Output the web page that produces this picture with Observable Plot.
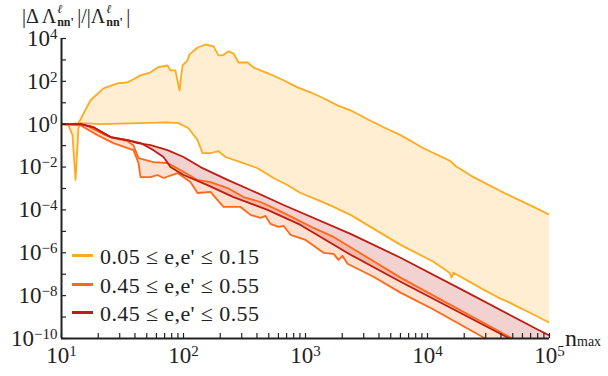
<!DOCTYPE html>
<html>
<head>
<meta charset="utf-8">
<script src="https://cdn.jsdelivr.net/npm/d3@7"></script>
<script src="https://cdn.jsdelivr.net/npm/@observablehq/plot@0.6"></script>
<style>
  html, body { margin: 0; padding: 0; background: #fff; }
  #wrap { position: relative; width: 608px; height: 376px; font-family: "Liberation Serif", "Times New Roman", "DejaVu Serif", serif; color: #222; }
  #chart { position: absolute; left: 0; top: 0; }
  .ov { position: absolute; white-space: nowrap; }
  .st { display: inline-block; position: relative; height: 1em; vertical-align: baseline; }
  .st span { position: absolute; left: 1px; font-size: 12px; line-height: 13px; }
  .st .u { top: 0px; font-style: italic; }
  .st .l { top: 13px; font-weight: bold; }
  .leg { position: absolute; left: 72px; font-size: 22px; white-space: nowrap; letter-spacing: 0.4px; }
  .leg i { display: inline-block; width: 21px; height: 0; border-top: 3px solid; vertical-align: 0.3em; margin-right: 7px; }
</style>
</head>
<body>
<div id="wrap">
  <div class="ov" style="left:22px; top:3px; font-size:20px;">|Δ Λ<span class="st" style="width:21px"><span class="u">ℓ</span><span class="l">nn'</span></span>|/|Λ<span class="st" style="width:21px"><span class="u">ℓ</span><span class="l">nn'</span></span>|</div>
  <div id="chart"></div>
  <div class="ov" style="left:565px; top:325px; font-size:24px;">n<span style="font-size:14px;">max</span></div>
  <div id="legend"></div>
</div>
<script>
// ---- data (log10 of n_max, log10 of value) ----
const yellowUpperLogN = [1.000,1.074,1.139,1.238,1.344,1.459,1.541,1.648,1.730,1.787,1.869,1.893,1.934,1.967,1.992,2.033,2.049,2.115,2.180,2.246,2.287,2.320,2.369,2.410,2.451,2.525,2.574,2.631,2.713,2.820,2.934,3.041,3.148,3.262,3.369,3.508,3.639,3.779,3.967,4.189,4.230,4.377,4.598,4.869,5.000];
const yellowUpperLogV = [0.00,0.00,0.05,1.12,1.67,1.91,1.95,2.28,2.42,2.65,2.74,2.51,2.51,1.58,2.74,2.98,3.26,3.58,3.72,3.63,3.21,3.21,3.40,3.30,2.88,2.88,2.65,2.51,2.33,2.05,1.72,1.49,1.21,0.88,0.65,0.23,-0.14,-0.51,-1.12,-1.72,-1.95,-2.47,-3.12,-3.86,-4.23];
const yellowLowerLogN = [1.000,1.057,1.090,1.115,1.139,1.156,1.320,1.869,1.959,2.041,2.115,2.156,2.221,2.287,2.344,2.467,2.607,2.738,2.852,2.959,3.098,3.230,3.369,3.779,4.049,4.180,4.197,4.213,4.459,4.598,4.656,4.869,5.000];
const yellowLowerLogV = [0.00,-0.05,-0.51,-2.60,-0.19,0.05,0.00,0.09,0.05,-0.19,-0.74,-1.35,-1.35,-1.26,-1.53,-1.77,-2.05,-2.51,-2.84,-3.21,-3.53,-3.86,-4.23,-5.63,-6.42,-6.93,-7.16,-6.93,-7.72,-8.14,-8.28,-8.88,-9.26];

const orangeUpperLogN = [1.000,1.197,1.344,1.426,1.541,1.590,1.631,1.754,1.869,1.975,2.115,2.221,2.361,2.492,2.631,2.770,2.902,3.066,3.230,3.779,4.680,5.000];
const orangeUpperLogV = [0.00,-0.05,-0.47,-0.65,-0.79,-0.98,-1.58,-1.77,-1.81,-2.14,-2.60,-2.70,-2.98,-3.40,-3.63,-4.00,-4.37,-4.84,-5.26,-7.16,-9.95,-10.93];
const orangeLowerLogN = [1.000,1.156,1.295,1.426,1.590,1.631,1.648,1.730,1.787,1.836,1.951,2.057,2.115,2.221,2.328,2.467,2.549,2.631,2.672,2.713,2.779,2.820,2.877,3.000,3.148,3.230,3.270,3.303,3.344,3.557,3.779,4.049,4.459,5.000];
const orangeLowerLogV = [0.00,-0.05,-0.51,-0.88,-1.21,-1.81,-2.47,-2.47,-2.37,-2.51,-2.28,-2.70,-3.21,-3.16,-3.86,-3.86,-4.23,-4.37,-4.28,-4.65,-4.79,-4.74,-5.16,-5.40,-6.00,-6.05,-6.33,-6.14,-6.51,-7.12,-7.86,-8.65,-9.95,-11.53];

const redUpperLogN = [1.000,1.156,1.262,1.402,1.541,1.623,1.730,1.869,2.000,2.139,2.361,2.549,2.820,3.369,3.779,4.328,4.902,5.000];
const redUpperLogV = [0.00,0.00,-0.14,-0.60,-0.74,-0.88,-0.98,-1.21,-1.53,-2.00,-2.60,-3.07,-3.77,-5.12,-6.23,-7.86,-9.58,-9.86];
const redLowerLogN = [1.000,1.156,1.262,1.402,1.541,1.648,1.754,1.836,1.893,2.000,2.197,2.410,2.689,2.959,3.369,3.779,4.656,5.000];
const redLowerLogV = [0.00,0.00,-0.14,-0.60,-0.74,-0.88,-1.21,-1.53,-2.00,-2.37,-2.84,-3.40,-4.00,-4.70,-6.09,-7.35,-9.95,-11.00];

const seriesLabels = ["0.05 ≤ e,e' ≤ 0.15", "0.45 ≤ e,e' ≤ 0.55", "0.45 ≤ e,e' ≤ 0.55"];
const seriesColors = ["#FFAA1E", "#FF6719", "#BE1D12"];

const xMajorTicks = [1e1, 1e2, 1e3, 1e4, 1e5];
const xMinorMultipliers = [2, 3, 4, 5, 6, 7, 8, 9];
const yTickExponents = [-10, -9, -8, -7, -6, -5, -4, -3, -2, -1, 0, 1, 2, 3, 4];
const yLabelExponents = [-10, -8, -6, -4, -2, 0, 2, 4];

// ---- build ----
const pts = (ln, lv) => ln.map((n, i) => ({x: 10 ** n, y: 10 ** lv[i]}));
const bands = [
  {up: pts(yellowUpperLogN, yellowUpperLogV), lo: pts(yellowLowerLogN, yellowLowerLogV)},
  {up: pts(orangeUpperLogN, orangeUpperLogV), lo: pts(orangeLowerLogN, orangeLowerLogV)},
  {up: pts(redUpperLogN, redUpperLogV), lo: pts(redLowerLogN, redLowerLogV)}
];
const xMinorTicks = xMajorTicks.slice(0, -1).flatMap(d => xMinorMultipliers.map(k => d * k));
const xTicks = xMajorTicks.concat(xMinorTicks);
const yTicks = yTickExponents.map(e => 10 ** e);
const yLabels = yLabelExponents.map(e => 10 ** e);

const W = 608, H = 376, ML = 61, MR = 59, MT = 38, MB = 38;
const FONT = "Liberation Serif, Times New Roman, DejaVu Serif, serif";

const marks = [];
bands.forEach((b, i) => {
  const poly = b.up.concat(b.lo.slice().reverse());
  marks.push(Plot.line(poly, {x: "x", y: "y", fill: seriesColors[i], fillOpacity: 0.2, stroke: "none", clip: true}));
});
bands.forEach((b, i) => {
  marks.push(Plot.line(b.up, {x: "x", y: "y", stroke: seriesColors[i], strokeWidth: 1.8, clip: true}));
  marks.push(Plot.line(b.lo, {x: "x", y: "y", stroke: seriesColors[i], strokeWidth: 1.8, clip: true}));
});

const fmt = d => "10^" + Math.round(Math.log10(d));
marks.push(
  Plot.tickX(xTicks, {x: d => d, stroke: "#222", strokeWidth: 1.2, insetTop: H - MT - MB - 5}),
  Plot.tickY(yTicks, {y: d => d, stroke: "#222", strokeWidth: 1.2, insetRight: W - ML - MR - 5}),
  Plot.ruleX([1e1], {stroke: "#222", strokeWidth: 2}),
  Plot.ruleY([1e-10], {stroke: "#222", strokeWidth: 2}),
  Plot.axisX(xMajorTicks, {tickSize: 0, tickPadding: 8, tickFormat: fmt, fontSize: 23, label: null, fontFamily: FONT}),
  Plot.axisY(yLabels, {tickSize: 0, tickPadding: 4, tickFormat: fmt, fontSize: 23, label: null, fontFamily: FONT})
);

const chart = Plot.plot({
  width: W, height: H,
  marginLeft: ML, marginRight: MR, marginTop: MT, marginBottom: MB,
  x: {type: "log", domain: [1e1, 1e5], label: null},
  y: {type: "log", domain: [1e-10, 1e4], label: null},
  style: {fontFamily: FONT, color: "#222", background: "transparent", overflow: "visible"},
  marks
});

// render tick labels as 10 with a superscript exponent
d3.select(chart).selectAll("text").each(function() {
  const t = this.textContent;
  const m = /^10\^(-?\d+)$/.exec(t);
  if (!m) return;
  const sel = d3.select(this);
  sel.text("10");
  sel.append("tspan").attr("dy", "-0.48em").attr("font-size", "15px").text(m[1].replace("-", "−"));
});

document.getElementById("chart").appendChild(chart);

const legend = document.getElementById("legend");
const legTops = [244, 273, 301];
seriesLabels.forEach((lab, i) => {
  const d = document.createElement("div");
  d.className = "leg";
  d.style.top = legTops[i] + "px";
  d.innerHTML = `<i style="border-color:${seriesColors[i]}"></i>${lab}`;
  legend.appendChild(d);
});
</script>
</body>
</html>
